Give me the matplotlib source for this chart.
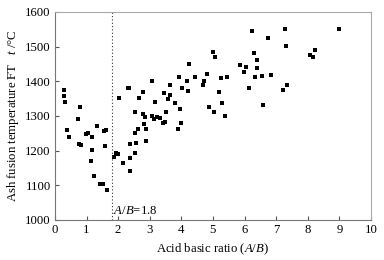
import matplotlib
matplotlib.use("Agg")
import matplotlib.pyplot as plt

# acid/basic ratio (A/B) and ash fusion temperature FT (°C)
ab_ratio = [0.29, 0.29, 0.32, 0.79, 0.72, 0.37, 0.44, 0.75, 0.83, 0.97,
            1.05, 1.16, 1.34, 1.18, 1.56, 1.62, 1.59, 1.14, 1.25, 1.43,
            1.53, 1.66,
            1.87, 1.92, 2.01, 2.14, 2.37, 2.39, 2.53, 2.39, 2.58, 2.53,
            2.63, 2.89, 2.81, 2.88, 2.02, 2.33, 2.30, 2.66, 2.80, 2.53,
            2.80, 2.84, 3.07, 3.12, 3.23, 3.34, 3.43, 3.49, 3.52, 3.17,
            3.07, 3.45, 3.58, 3.63, 3.65, 3.81, 3.89, 3.93, 3.97, 3.99,
            4.03, 4.18, 4.20, 4.24, 4.42,
            4.69, 4.73, 4.80, 4.87, 5.01, 5.02, 5.07, 5.18, 5.26, 5.29,
            5.38, 5.43, 5.87, 5.97, 6.04, 6.13, 6.25, 6.30, 6.32, 6.39,
            6.41, 6.55, 6.58, 6.75, 6.85,
            7.23, 7.27, 7.30, 7.34, 8.08, 8.18, 8.24, 8.98]
ft_temp = [1374, 1358, 1340, 1326, 1290, 1260, 1240, 1220, 1216, 1247,
           1251, 1240, 1272, 1201, 1256, 1260, 1213, 1170, 1128, 1104,
           1105, 1086,
           1181, 1192, 1189, 1164, 1140, 1180, 1194, 1220, 1222, 1252,
           1261, 1228, 1276, 1262, 1351, 1382, 1381, 1351, 1370, 1311,
           1307, 1298, 1300, 1290, 1296, 1294, 1280, 1284, 1310, 1340,
           1400, 1366, 1348, 1360, 1390, 1338, 1263, 1412, 1319, 1281,
           1382, 1400, 1372, 1450, 1412,
           1389, 1400, 1422, 1326, 1485, 1312, 1469, 1370, 1410, 1337,
           1301, 1412, 1446, 1426, 1441, 1382, 1545, 1483, 1412, 1461,
           1439, 1414, 1331, 1526, 1419,
           1376, 1552, 1502, 1389, 1476, 1470, 1491, 1551]

plt.rcParams['font.family'] = ['Liberation Serif', 'DejaVu Serif']
plt.rcParams['font.size'] = 9.2
plt.rcParams['mathtext.fontset'] = 'custom'
plt.rcParams['mathtext.rm'] = 'Liberation Serif'
plt.rcParams['mathtext.it'] = 'Liberation Serif:italic'

fig = plt.figure(figsize=(3.84, 2.60), dpi=100)
ax = fig.add_axes([0.143, 0.154, 0.823, 0.800])

ax.scatter(ab_ratio, ft_temp, marker='s', s=11, color='black', linewidths=0)
ax.axvline(1.8, color='#333333', linestyle=(0, (1, 2)), linewidth=0.8)
ax.text(1.85, 1008, '$A/B$=1.8', ha='left', va='bottom')

ax.set_xlim(0, 10)
ax.set_ylim(1000, 1600)
ax.set_xticks(range(0, 11))
ax.set_yticks(range(1000, 1601, 100))
ax.tick_params(direction='in', length=3, width=0.8, color='#555555', pad=3)

for side in ['top', 'right']:
    ax.spines[side].set_color('#aaaaaa')
for side in ['left', 'bottom']:
    ax.spines[side].set_color('#777777')
for sp in ax.spines.values():
    sp.set_linewidth(0.8)

ax.set_xlabel('Acid basic ratio ($A/B$)', labelpad=4)
ax.set_ylabel('Ash fusion temperature FT   $t$ /\u00b0C', labelpad=3)

fig.savefig('out.png', dpi=100)
